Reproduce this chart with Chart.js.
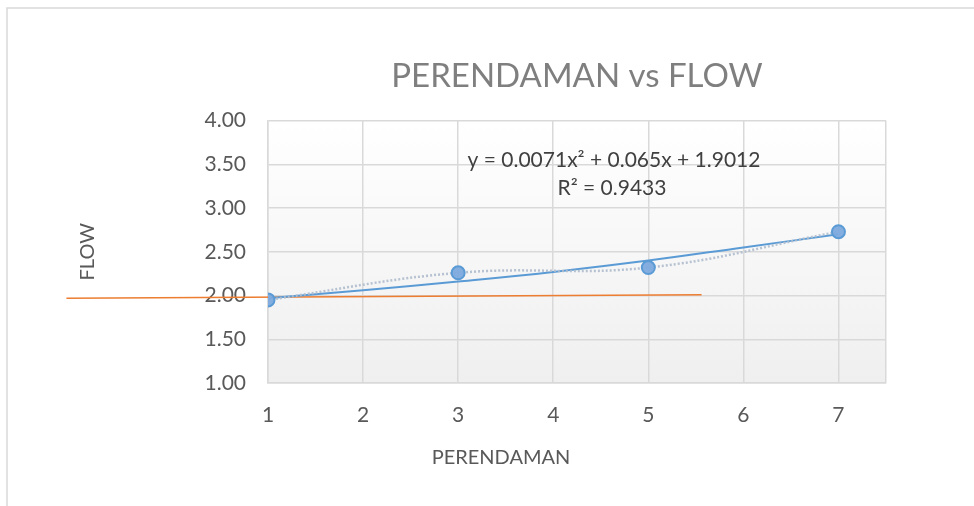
<!DOCTYPE html>
<html>
<head>
<meta charset="utf-8">
<script src="https://cdn.jsdelivr.net/npm/chart.js@4/dist/chart.umd.min.js"></script>
<style>
html, body { margin: 0; padding: 0; background: #fff; }
</style>
</head>
<body>
<canvas id="scatter__perendaman__flow" width="974" height="506"></canvas>
<script>
// PERENDAMAN vs FLOW
const perendaman = [1, 3, 5, 7];
const flow = [1.95, 2.26, 2.32, 2.73];

// polynomial trendline
const trendX = [1, 2, 3, 4, 5, 6, 7];
const trendY = [1.97, 2.06, 2.16, 2.27, 2.40, 2.55, 2.70];

// stray orange line
const orangeX = [-1.12, 5.56];
const orangeY = [1.97, 2.01];

const xTicks = [1, 2, 3, 4, 5, 6, 7];
const yTicks = [1.00, 1.50, 2.00, 2.50, 3.00, 3.50, 4.00];

const eqText = 'y = 0.0071x\u00B2 + 0.065x + 1.9012';
const r2Text = 'R\u00B2 = 0.9433';

const FONT = 'Lato, "Open Sans", sans-serif';
const toXY = (xs, ys) => xs.map((x, i) => ({ x: x, y: ys[i] }));

const excelLook = {
    id: 'excelLook',
    beforeDraw(chart) {
        const c = chart.ctx, a = chart.chartArea;
        c.save();
        // outer frame
        c.strokeStyle = '#d9d9d9';
        c.lineWidth = 1.5;
        c.beginPath();
        c.moveTo(7, 506);
        c.lineTo(7, 8);
        c.lineTo(974, 8);
        c.stroke();
        // plot area gradient
        const g = c.createLinearGradient(0, a.top, 0, a.bottom);
        g.addColorStop(0, '#ffffff');
        g.addColorStop(1, '#efefef');
        c.fillStyle = g;
        c.fillRect(a.left, a.top, a.right - a.left, a.bottom - a.top);
        c.restore();
    },
    afterDraw(chart) {
        const c = chart.ctx;
        c.save();
        c.fillStyle = '#404040';
        c.font = '21px ' + FONT;
        c.textAlign = 'center';
        c.textBaseline = 'middle';
        c.fillText(eqText, 614, 160);
        c.fillText(r2Text, 612, 188);
        c.fillStyle = '#595959';
        c.font = '20px ' + FONT;
        c.fillText('PERENDAMAN', 501, 458);
        c.restore();
    }
};

let ctx__flow = document.getElementById('scatter__perendaman__flow').getContext('2d');
new Chart(ctx__flow, {
    type: 'scatter',
    data: {
        datasets: [{
            label: 'FLOW',
            data: toXY(perendaman, flow),
            showLine: true,
            tension: 0.4,
            borderColor: 'rgba(175, 188, 205, 0.9)',
            borderWidth: 2.5,
            borderDash: [2, 2],
            pointRadius: 6.5,
            pointBackgroundColor: 'rgba(125, 170, 222, 0.95)',
            pointBorderColor: '#5b9bd5',
            pointBorderWidth: 2,
            order: 1
        }, {
            label: 'Poly. (FLOW)',
            data: toXY(trendX, trendY),
            showLine: true,
            tension: 0.4,
            borderColor: '#5b9bd5',
            borderWidth: 2,
            pointRadius: 0,
            order: 2
        }, {
            label: 'orange',
            data: toXY(orangeX, orangeY),
            showLine: true,
            borderColor: '#ed7d31',
            borderWidth: 1.5,
            pointRadius: 0,
            clip: false,
            order: 3
        }]
    },
    options: {
        responsive: false,
        animation: false,
        layout: { padding: { left: 76, right: 88, top: 0, bottom: 0 } },
        plugins: {
            legend: { display: false },
            tooltip: { enabled: false },
            title: {
                display: true,
                text: 'PERENDAMAN vs FLOW',
                fullSize: false,
                color: '#7f7f7f',
                font: { family: FONT, size: 33, weight: 'normal' },
                padding: { top: 57, bottom: 24 }
            }
        },
        scales: {
            x: {
                type: 'linear',
                min: 1,
                max: 7.5,
                afterFit: s => { s.height = 123; },
                afterBuildTicks: s => { s.ticks = xTicks.concat([7.5]).map(v => ({ value: v })); },
                grid: { color: '#d9d9d9', lineWidth: 1.5, drawTicks: false },
                border: { color: '#d9d9d9', width: 1.5 },
                ticks: {
                    padding: 20,
                    color: '#595959',
                    font: { family: FONT, size: 21 },
                    callback: v => (xTicks.includes(v) ? String(v) : '')
                }
            },
            y: {
                min: 1,
                max: 4,
                afterFit: s => { s.width = 192; },
                afterBuildTicks: s => { s.ticks = yTicks.map(v => ({ value: v })); },
                grid: { color: '#d9d9d9', lineWidth: 1.5, drawTicks: false },
                border: { color: '#d9d9d9', width: 1.5 },
                title: {
                    display: true,
                    text: 'FLOW',
                    color: '#595959',
                    font: { family: FONT, size: 20 },
                    padding: { top: 0, bottom: 0 }
                },
                ticks: {
                    padding: 22,
                    color: '#595959',
                    font: { family: FONT, size: 21 },
                    callback: v => v.toFixed(2)
                }
            }
        }
    },
    plugins: [excelLook]
});
</script>
</body>
</html>
